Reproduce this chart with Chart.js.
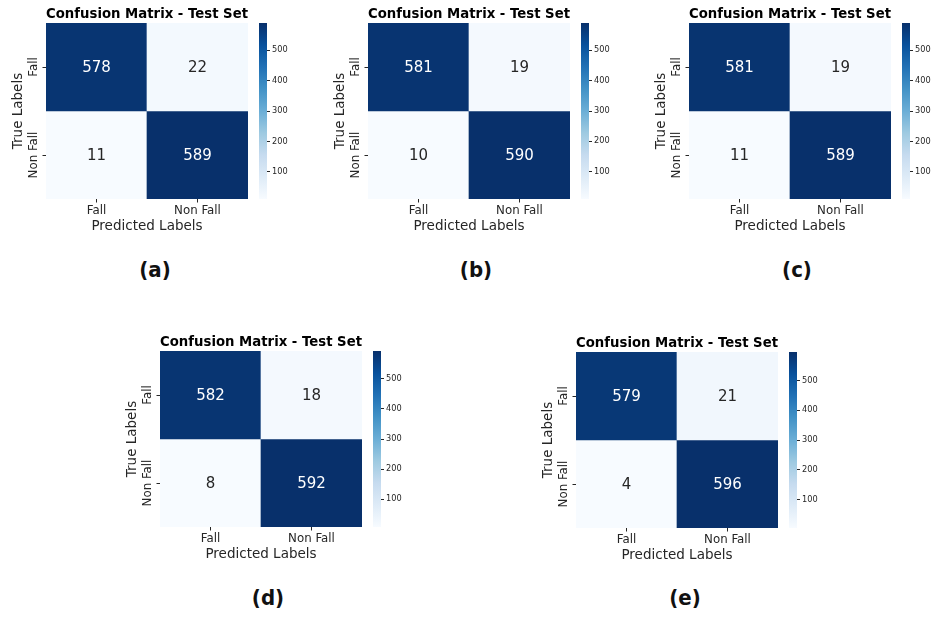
<!DOCTYPE html>
<html>
<head>
<meta charset="utf-8">
<script src="https://cdn.jsdelivr.net/npm/chart.js@4.4.1/dist/chart.umd.min.js"></script>
<style>
  body { margin: 0; background: #fff; width: 937px; height: 617px; position: relative; overflow: hidden; }
  canvas { position: absolute; }
  .tag { position: absolute; font-family: "Liberation Sans Narrow", "DejaVu Sans Condensed", sans-serif; font-weight: bold; font-size: 22px; line-height: 22px; color: #111; transform: translateX(-50%); }
</style>
</head>
<body>
<script>
// data
var predictedLabels = ['Fall', 'Non Fall'];
var trueLabels = ['Fall', 'Non Fall'];
var matrixA = [[578, 22], [11, 589]];
var matrixB = [[581, 19], [10, 590]];
var matrixC = [[581, 19], [11, 589]];
var matrixD = [[582, 18], [8, 592]];
var matrixE = [[579, 21], [4, 596]];
var panelTags = ['(a)', '(b)', '(c)', '(d)', '(e)'];
var colorbarTicks = [100, 200, 300, 400, 500];
var chartTitle = 'Confusion Matrix - Test Set';

// where each heatmap sits on the page (top-left of the cells) and its tag
var layout = [
    { left: 46,  top: 23,  tagX: 155, tagY: 270 },
    { left: 368, top: 23,  tagX: 476, tagY: 270 },
    { left: 689, top: 23,  tagX: 797, tagY: 270 },
    { left: 160, top: 351, tagX: 268, tagY: 598 },
    { left: 576, top: 352, tagX: 685, tagY: 598 }
];
var matrices = [matrixA, matrixB, matrixC, matrixD, matrixE];

Chart.defaults.font.family = 'DejaVu Sans';
Chart.defaults.color = '#262626';

// matplotlib "Blues"
var bluesStops = ['#f7fbff', '#deebf7', '#c6dbef', '#9ecae1', '#6baed6', '#4292c6', '#2171b5', '#08519c', '#08306b'];

function hexToRgb(h) {
    return [parseInt(h.substr(1, 2), 16), parseInt(h.substr(3, 2), 16), parseInt(h.substr(5, 2), 16)];
}
function blues(t) {
    t = Math.max(0, Math.min(1, t));
    var pos = t * (bluesStops.length - 1);
    var i = Math.min(Math.floor(pos), bluesStops.length - 2);
    var f = pos - i;
    var a = hexToRgb(bluesStops[i]), b = hexToRgb(bluesStops[i + 1]);
    return [0, 1, 2].map(k => Math.round(a[k] + (b[k] - a[k]) * f));
}
function luminance(rgb) {
    var c = rgb.map(v => {
        v = v / 255;
        return v <= 0.03928 ? v / 12.92 : Math.pow((v + 0.055) / 1.055, 2.4);
    });
    return 0.2126 * c[0] + 0.7152 * c[1] + 0.0722 * c[2];
}

// writes the count in the middle of every cell
var cellText = {
    id: 'cellText',
    afterDatasetsDraw(chart) {
        var ctx = chart.ctx;
        ctx.save();
        ctx.font = '15px "DejaVu Sans"';
        ctx.textAlign = 'center';
        ctx.textBaseline = 'middle';
        chart.data.datasets.forEach((ds, i) => {
            var meta = chart.getDatasetMeta(i);
            meta.data.forEach((bar, j) => {
                var p = bar.getProps(['x', 'y', 'base'], true);
                ctx.fillStyle = ds.textColors[j];
                ctx.fillText(String(ds.counts[j]), p.x, (p.y + p.base) / 2 + 1);
            });
        });
        ctx.restore();
    }
};

function makeCanvas(left, top, w, h) {
    var c = document.createElement('canvas');
    c.width = w; c.height = h;
    c.style.left = left + 'px';
    c.style.top = top + 'px';
    c.style.width = w + 'px';
    c.style.height = h + 'px';
    document.body.appendChild(c);
    return c;
}

function drawPanel(matrix, pos, tag) {
    var flat = matrix[0].concat(matrix[1]);
    var vmin = Math.min.apply(null, flat);
    var vmax = Math.max.apply(null, flat);

    var datasets = matrix.map((row, r) => {
        var cols = row.map(v => blues((v - vmin) / (vmax - vmin)));
        return {
            data: row.map(() => [r, r + 1]),
            counts: row,
            backgroundColor: cols.map(c => 'rgb(' + c.join(',') + ')'),
            textColors: cols.map(c => luminance(c) > 0.408 ? '#262626' : '#ffffff'),
            borderWidth: 0,
            barPercentage: 1,
            categoryPercentage: 1,
            grouped: false
        };
    });

    var heat = makeCanvas(pos.left - 46, pos.top - 23, 248, 235);
    new Chart(heat.getContext('2d'), {
        type: 'bar',
        data: { labels: predictedLabels, datasets: datasets },
        options: {
            responsive: false,
            animation: false,
            layout: { padding: 0, autoPadding: false },
            plugins: {
                legend: { display: false },
                tooltip: { enabled: false },
                title: {
                    display: true,
                    text: chartTitle,
                    fullSize: false,
                    color: '#000',
                    font: { size: 13.6, weight: 'bold' },
                    padding: { top: 6.7, bottom: 0 }
                }
            },
            scales: {
                x: {
                    offset: true,
                    grid: { offset: false, drawOnChartArea: false, drawTicks: true, tickLength: 3.5, color: '#262626' },
                    border: { display: false },
                    ticks: { padding: 1, maxRotation: 0, font: { size: 11.8 } },
                    title: { display: true, text: 'Predicted Labels', font: { size: 13.5 }, padding: { top: 0, bottom: 0.8 } },
                    afterFit: s => { s.height = 36; }
                },
                y: {
                    type: 'linear',
                    min: 0,
                    max: 2,
                    reverse: true,
                    afterBuildTicks: s => { s.ticks = [{ value: 0.5 }, { value: 1.5 }]; },
                    grid: { drawOnChartArea: false, drawTicks: true, tickLength: 3.5, color: '#262626' },
                    border: { display: false },
                    ticks: {
                        callback: (v, i) => trueLabels[i],
                        minRotation: 90,
                        maxRotation: 90,
                        crossAlign: 'center',
                        padding: -15,
                        autoSkip: false,
                        font: { size: 11.8 }
                    },
                    title: { display: true, text: 'True Labels', font: { size: 13.5 }, padding: { top: 10, bottom: 0 } },
                    afterFit: s => { s.width = 46; }
                }
            }
        },
        plugins: [cellText]
    });

    // colour bar
    var bar = makeCanvas(pos.left + 213, pos.top, 40, 176);
    new Chart(bar.getContext('2d'), {
        type: 'bar',
        data: {
            labels: [''],
            datasets: [{
                data: [[vmin, vmax]],
                borderWidth: 0,
                barPercentage: 1,
                categoryPercentage: 1,
                backgroundColor: function(context) {
                    var chart = context.chart;
                    var area = chart.chartArea;
                    if (!area) return null;
                    var g = chart.ctx.createLinearGradient(0, area.bottom, 0, area.top);
                    bluesStops.forEach((c, i) => g.addColorStop(i / (bluesStops.length - 1), c));
                    return g;
                }
            }]
        },
        options: {
            responsive: false,
            animation: false,
            layout: { padding: 0, autoPadding: false },
            plugins: { legend: { display: false }, tooltip: { enabled: false } },
            scales: {
                x: { display: false },
                y: {
                    position: 'right',
                    min: vmin,
                    max: vmax,
                    afterBuildTicks: s => { s.ticks = colorbarTicks.map(v => ({ value: v })); },
                    grid: { drawOnChartArea: false, drawTicks: true, tickLength: 3, color: '#262626' },
                    border: { display: false },
                    ticks: { padding: 2, font: { size: 8.2 } },
                    afterFit: s => { s.width = 32; s.paddingTop = 0; s.paddingBottom = 0; }
                }
            }
        }
    });

    var t = document.createElement('div');
    t.className = 'tag';
    t.textContent = tag;
    t.style.left = pos.tagX + 'px';
    t.style.top = (pos.tagY - 11) + 'px';
    document.body.appendChild(t);
}

for (var i = 0; i < matrices.length; i++) {
    drawPanel(matrices[i], layout[i], panelTags[i]);
}
</script>
</body>
</html>
